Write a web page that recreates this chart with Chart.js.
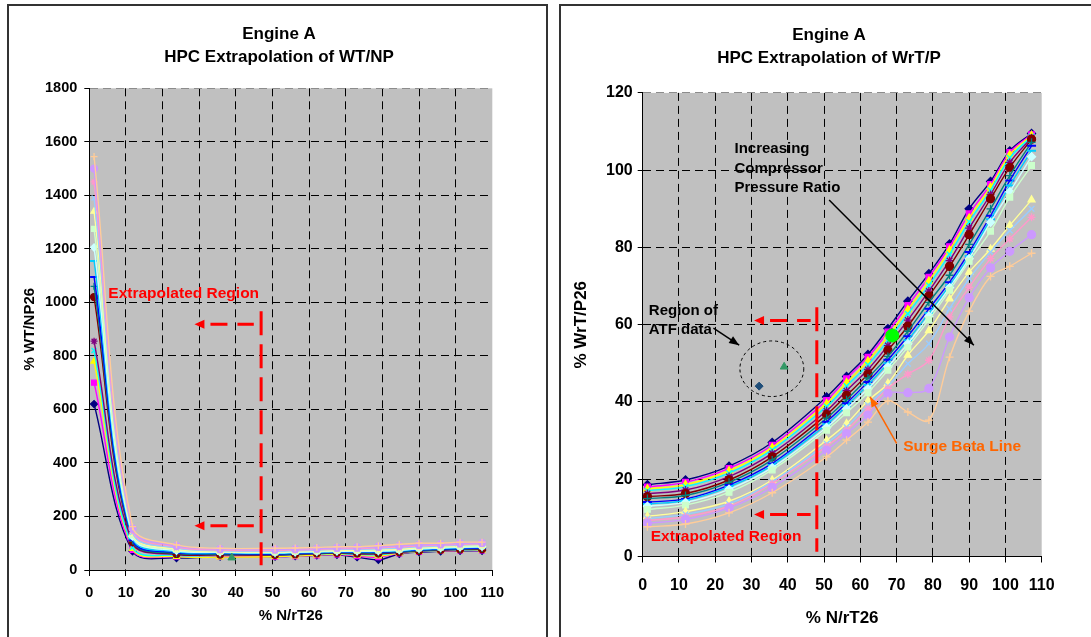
<!DOCTYPE html>
<html>
<head>
<meta charset="utf-8">
<script src="https://cdn.jsdelivr.net/npm/chart.js@4.4.1/dist/chart.umd.min.js"></script>
<style>
html, body { margin: 0; padding: 0; background: #fff; width: 1091px; height: 637px; overflow: hidden; position: relative; }
.panel { position: absolute; top: 4px; height: 700px; border: 2px solid #333; box-sizing: border-box; }
#panel-left { left: 7px; width: 541px; }
#panel-right { left: 559px; width: 600px; }
canvas { position: absolute; top: 0; }
#wtnp-chart { left: 0; }
#wrtp-chart { left: 550px; }
</style>
</head>
<body>
<div class="panel" id="panel-left"></div>
<div class="panel" id="panel-right"></div>
<canvas id="wtnp-chart" width="550" height="637"></canvas>
<canvas id="wrtp-chart" width="541" height="637"></canvas>
<script>
// --- Data ---
const speedPct = [1.3, 11.8, 23.8, 35.7, 50.7, 56.2, 62.1, 67.6, 73.1, 78.9, 84.6, 90.0, 95.9, 101.2, 107.2];

// % WT/NP26 per speed line (left chart)
const wtnp1  = [620, 70, 45, 50, 50, 52, 55, 57, 48, 38, 60, 67, 70, 72, 72];
const wtnp2  = [700, 75, 50, 50, 50, 52, 55, 58, 52, 48, 62, 68, 71, 73, 73];
const wtnp3  = [780, 80, 50, 48, 50, 52, 56, 60, 55, 52, 63, 69, 72, 74, 74];
const wtnp4  = [820, 85, 55, 55, 55, 57, 60, 62, 58, 57, 65, 70, 73, 75, 76];
const wtnp5  = [855, 100, 58, 57, 56, 58, 61, 63, 60, 60, 66, 71, 74, 76, 77];
const wtnp6  = [1020, 105, 60, 58, 57, 59, 62, 64, 62, 62, 67, 72, 75, 77, 78];
const wtnp7  = [1060, 108, 62, 60, 58, 60, 63, 65, 64, 64, 68, 73, 76, 78, 80];
const wtnp8  = [1095, 112, 65, 62, 60, 62, 64, 66, 66, 66, 70, 75, 78, 80, 82];
const wtnp9  = [1155, 118, 68, 64, 62, 64, 66, 68, 68, 69, 72, 77, 80, 83, 85];
const wtnp10 = [1205, 125, 72, 66, 64, 66, 68, 70, 70, 71, 74, 79, 82, 85, 87];
const wtnp11 = [1275, 130, 75, 68, 66, 68, 70, 72, 72, 73, 76, 81, 84, 87, 89];
const wtnp12 = [1340, 135, 78, 70, 68, 70, 72, 74, 74, 76, 79, 84, 87, 90, 92];
const wtnp13 = [1390, 140, 82, 72, 70, 72, 74, 77, 77, 79, 82, 87, 90, 93, 95];
const wtnp14 = [1450, 148, 86, 75, 73, 75, 77, 80, 80, 83, 86, 90, 93, 96, 98];
const wtnp15 = [1500, 155, 90, 78, 77, 78, 80, 83, 84, 87, 90, 94, 96, 100, 101];
const wtnp16 = [1545, 162, 94, 81, 81, 82, 84, 87, 87, 91, 96, 100, 100, 104, 104];

// % WrT/P26 per speed line (right chart)
const wrtp1  = [18.6, 19.8, 23.4, 29.5, 41.3, 46.6, 52.3, 59.0, 66.1, 73.2, 80.9, 90.0, 97.1, 105.0, 109.5];
const wrtp2  = [18.0, 19.2, 22.8, 28.8, 40.4, 46.0, 51.6, 58.1, 65.0, 72.3, 80.2, 88.7, 96.3, 104.6, 109.2];
const wrtp3  = [17.5, 18.6, 22.2, 28.2, 39.6, 45.0, 50.6, 57.0, 63.9, 71.3, 79.3, 87.6, 95.6, 104.0, 109.0];
const wrtp4  = [17.0, 18.1, 21.6, 27.6, 38.8, 44.1, 49.6, 55.9, 62.8, 70.2, 78.2, 86.6, 94.8, 103.2, 108.7];
const wrtp5  = [16.3, 17.2, 20.7, 26.7, 37.7, 42.9, 48.4, 54.6, 61.2, 68.7, 76.6, 85.0, 93.7, 102.0, 108.4];
const wrtp6  = [15.5, 16.3, 19.8, 25.8, 36.7, 41.7, 47.2, 53.4, 59.6, 67.4, 75.1, 83.3, 92.6, 100.7, 108.0];
const wrtp7  = [15.0, 15.8, 19.2, 25.0, 35.8, 40.6, 46.2, 51.8, 58.3, 65.8, 72.8, 80.8, 90.0, 98.6, 107.2];
const wrtp8  = [14.1, 14.9, 18.5, 24.1, 34.9, 39.7, 45.2, 50.9, 57.0, 64.1, 71.0, 78.8, 88.2, 97.3, 106.3];
const wrtp9  = [13.6, 14.5, 18.0, 23.6, 34.2, 39.0, 44.4, 50.0, 56.0, 63.0, 70.2, 77.8, 87.3, 96.0, 105.0];
const wrtp10 = [13.0, 14.0, 17.4, 23.0, 33.4, 38.2, 43.4, 49.1, 55.1, 62.2, 69.6, 77.1, 86.5, 94.4, 103.5];
const wrtp11 = [12.2, 13.3, 16.6, 22.4, 32.7, 37.2, 42.4, 48.2, 54.2, 61.3, 68.9, 76.4, 84.2, 93.0, 101.2];
const wrtp12 = [10.4, 11.6, 14.3, 19.8, 30.1, 34.4, 40.3, 44.8, 52.1, 58.5, 66.7, 73.6, 79.6, 85.7, 92.3];
const wrtp13 = [9.8, 10.9, 13.6, 19.3, 29.2, 33.5, 39.2, 44.1, 49.9, 55.1, 64.1, 71.9, 78.8, 84.4, 90.0];
const wrtp14 = [9.3, 10.3, 13.0, 18.9, 28.5, 32.7, 38.3, 43.5, 47.2, 50.8, 62.0, 69.7, 77.1, 82.2, 87.8];
const wrtp15 = [8.6, 9.6, 12.6, 17.9, 27.5, 31.8, 36.6, 42.2, 42.4, 43.5, 56.8, 67.0, 74.7, 79.0, 83.3];
const wrtp16 = [7.7, 8.4, 11.3, 16.5, 25.8, 30.1, 34.8, 40.3, 37.4, 35.3, 51.6, 63.5, 72.5, 75.1, 78.5];

// ATF test points
const atfX = [32.1, 39.0];
const atfWrtp = [44.1, 49.1];
const atfWtnpX = [38.9];
const atfWtnp = [46];
const designX = [68.8];
const designWrtp = [57.2];

const xTicks = [0, 110, 10];
const wtnpTicks = [0, 1800, 200];
const wrtpTicks = [0, 120, 20];

const wtnpSeries = [wtnp1, wtnp2, wtnp3, wtnp4, wtnp5, wtnp6, wtnp7, wtnp8, wtnp9, wtnp10, wtnp11, wtnp12, wtnp13, wtnp14, wtnp15, wtnp16];
const wrtpSeries = [wrtp1, wrtp2, wrtp3, wrtp4, wrtp5, wrtp6, wrtp7, wrtp8, wrtp9, wrtp10, wrtp11, wrtp12, wrtp13, wrtp14, wrtp15, wrtp16];

// Excel-ish series styling
const lineColors = ['#000080', '#FF00FF', '#FFFF00', '#00FFFF', '#800080', '#800000', '#008080', '#0000FF',
                    '#00CCFF', '#CCFFFF', '#CCFFCC', '#FFFF99', '#99CCFF', '#FF99CC', '#CC99FF', '#FFCC99'];
const lineMarkers = ['rectRot', 'rect', 'triangle', 'crossRot', 'star', 'circle', 'cross', 'line',
                     'line', 'rectRot', 'rect', 'triangle', 'crossRot', 'star', 'circle', 'cross'];

const FONT = '"Liberation Sans", Arial, Helvetica, sans-serif';
Chart.defaults.font.family = FONT;
Chart.defaults.color = '#000';

function speedLines(seriesList, r) {
    return seriesList.map((vals, i) => ({
        label: 'Line ' + (i + 1),
        data: vals.map((v, k) => ({ x: speedPct[k], y: v })),
        borderColor: lineColors[i],
        backgroundColor: lineColors[i],
        pointStyle: lineMarkers[i],
        pointRadius: lineMarkers[i] === 'line' ? r + 0.5 : r,
        pointBorderWidth: lineMarkers[i] === 'line' ? 2 : 1.3,
        borderWidth: 1.4,
        tension: 0.35,
        order: -i
    }));
}

function pointSet(xs, ys, color, style, r) {
    return {
        label: 'pts',
        data: xs.map((x, k) => ({ x, y: ys[k] })),
        showLine: false,
        borderColor: color,
        backgroundColor: color,
        pointStyle: style,
        pointRadius: r,
        pointBorderWidth: 1,
        order: -30
    };
}

// gray plot area
const plotBg = {
    id: 'plotBg',
    beforeDraw(chart) {
        const { ctx, chartArea: a } = chart;
        ctx.save();
        ctx.fillStyle = '#C0C0C0';
        ctx.fillRect(a.left, a.top, a.right - a.left, a.bottom - a.top);
        ctx.restore();
    }
};

// two-line heading centred on the panel
const heading = {
    id: 'heading',
    afterDraw(chart, args, opts) {
        const ctx = chart.ctx;
        ctx.save();
        ctx.font = 'bold 17px ' + FONT;
        ctx.fillStyle = '#000';
        ctx.textAlign = 'center';
        ctx.textBaseline = 'middle';
        opts.lines.forEach((t, i) => ctx.fillText(t, opts.cx, opts.y + i * opts.gap));
        ctx.restore();
    }
};

function arrowHead(ctx, x1, y1, x2, y2, len, half) {
    const ang = Math.atan2(y2 - y1, x2 - x1);
    ctx.beginPath();
    ctx.moveTo(x2, y2);
    ctx.lineTo(x2 - len * Math.cos(ang) + half * Math.sin(ang), y2 - len * Math.sin(ang) - half * Math.cos(ang));
    ctx.lineTo(x2 - len * Math.cos(ang) - half * Math.sin(ang), y2 - len * Math.sin(ang) + half * Math.cos(ang));
    ctx.closePath();
    ctx.fill();
}

// annotations, placed in data units
const notes = {
    id: 'notes',
    afterDatasetsDraw(chart, args, opts) {
        const { ctx, scales: { x, y } } = chart;
        const px = v => x.getPixelForValue(v);
        const py = v => y.getPixelForValue(v);
        ctx.save();
        (opts.items || []).forEach(it => {
            ctx.setLineDash([]);
            if (it.type === 'text') {
                ctx.font = 'bold ' + it.size + 'px ' + FONT;
                ctx.fillStyle = it.color;
                ctx.textAlign = 'left';
                ctx.textBaseline = 'middle';
                it.lines.forEach((t, i) => ctx.fillText(t, px(it.x), py(it.y) + i * (it.gap || 0)));
            } else if (it.type === 'vdash') {
                ctx.strokeStyle = '#FF0000';
                ctx.lineWidth = 3;
                ctx.setLineDash([24, 9]);
                ctx.beginPath();
                ctx.moveTo(px(it.x), py(it.y1));
                ctx.lineTo(px(it.x), py(it.y2));
                ctx.stroke();
            } else if (it.type === 'redArrow') {
                const tip = px(it.x1), end = px(it.x2), yy = py(it.y);
                ctx.fillStyle = '#FF0000';
                ctx.beginPath();
                ctx.moveTo(tip, yy);
                ctx.lineTo(tip + 10, yy - 4.5);
                ctx.lineTo(tip + 10, yy + 4.5);
                ctx.closePath();
                ctx.fill();
                ctx.strokeStyle = '#FF0000';
                ctx.lineWidth = 3;
                ctx.setLineDash([17, 10]);
                ctx.beginPath();
                ctx.moveTo(tip + 16, yy);
                ctx.lineTo(end, yy);
                ctx.stroke();
            } else if (it.type === 'arrow') {
                const x1 = px(it.x1), y1 = py(it.y1), x2 = px(it.x2), y2 = py(it.y2);
                ctx.strokeStyle = it.color;
                ctx.fillStyle = it.color;
                ctx.lineWidth = 1.5;
                ctx.beginPath();
                ctx.moveTo(x1, y1);
                ctx.lineTo(x2, y2);
                ctx.stroke();
                arrowHead(ctx, x1, y1, x2, y2, 10, 4);
            } else if (it.type === 'ellipse') {
                ctx.strokeStyle = '#000';
                ctx.lineWidth = 1;
                ctx.setLineDash([3, 3]);
                ctx.beginPath();
                ctx.ellipse(px(it.x), py(it.y), Math.abs(px(it.x + it.rx) - px(it.x)), Math.abs(py(it.y + it.ry) - py(it.y)), 0, 0, Math.PI * 2);
                ctx.stroke();
            }
        });
        ctx.restore();
    }
};

function buildScales(o) {
    return {
        x: {
            type: 'linear',
            min: xTicks[0], max: xTicks[1],
            ticks: { stepSize: xTicks[2], autoSkip: false, maxRotation: 0, padding: o.xPad, color: '#000',
                     font: { size: o.tickSize, weight: 'bold' } },
            grid: { color: c => (c.tick && c.tick.value === xTicks[1]) ? 'rgba(0,0,0,0)' : '#000',
                    lineWidth: 1, tickLength: 6, tickColor: '#000', tickWidth: 1 },
            border: { display: true, color: '#000', width: 1, dash: [8, 5] },
            title: { display: true, text: '% N/rT26', color: '#000', padding: 0,
                     font: { size: o.titleSize, weight: 'bold' } },
            afterFit: s => { s.height = o.xH; s.paddingLeft = 0; s.paddingRight = 0; }
        },
        y: {
            type: 'linear',
            min: o.yTicks[0], max: o.yTicks[1],
            ticks: { stepSize: o.yTicks[2], padding: o.yPad, color: '#000', callback: v => String(v),
                     font: { size: o.tickSize, weight: 'bold' } },
            grid: { color: c => (c.tick && c.tick.value === o.yTicks[1]) ? '#8c8c8c' : '#000',
                    lineWidth: 1, tickLength: 5, tickColor: '#000', tickWidth: 1 },
            border: { display: true, color: '#000', width: 1, dash: [8, 5] },
            title: { display: true, text: o.yTitle, color: '#000', padding: 0,
                     font: { size: o.titleSize, weight: 'bold' } },
            afterFit: s => { s.width = o.yW; s.paddingTop = 0; s.paddingBottom = 0; }
        }
    };
}

// --- Left: WT/NP ---
new Chart(document.getElementById('wtnp-chart'), {
    type: 'line',
    data: {
        datasets: speedLines(wtnpSeries, 3.5).concat([
            pointSet(atfWtnpX, atfWtnp, '#339966', 'triangle', 4.5)
        ])
    },
    options: {
        responsive: false,
        animation: false,
        layout: { padding: { left: 20.5, right: 57.7, top: 88.3, bottom: 12 } },
        scales: buildScales({ xPad: 8, yPad: 7, tickSize: 14.5, titleSize: 15, xH: 55, yW: 68.8,
                              yTicks: wtnpTicks, yTitle: '% WT/NP26' }),
        plugins: {
            legend: { display: false },
            tooltip: { enabled: false },
            heading: { lines: ['Engine A', 'HPC Extrapolation of WT/NP'], cx: 279, y: 34, gap: 23 },
            notes: {
                items: [
                    { type: 'text', x: 5.2, y: 1033, size: 15.5, color: '#FF0000', lines: ['Extrapolated Region'] },
                    { type: 'vdash', x: 46.9, y1: 967, y2: 18 },
                    { type: 'redArrow', x1: 28.7, x2: 44.9, y: 918 },
                    { type: 'redArrow', x1: 28.7, x2: 44.9, y: 165 }
                ]
            }
        }
    },
    plugins: [plotBg, heading, notes]
});

// --- Right: WrT/P ---
new Chart(document.getElementById('wrtp-chart'), {
    type: 'line',
    data: {
        datasets: speedLines(wrtpSeries, 4).concat([
            pointSet([atfX[0]], [atfWrtp[0]], '#1F4E79', 'rectRot', 4),
            pointSet([atfX[1]], [atfWrtp[1]], '#339966', 'triangle', 4.5),
            pointSet(designX, designWrtp, '#00FF00', 'circle', 6.5)
        ])
    },
    options: {
        responsive: false,
        animation: false,
        layout: { padding: { left: 20.8, right: 49.3, top: 92.9, bottom: 8.8 } },
        scales: buildScales({ xPad: 13, yPad: 5, tickSize: 16, titleSize: 17, xH: 71.7, yW: 71.9,
                              yTicks: wrtpTicks, yTitle: '% WrT/P26' }),
        plugins: {
            legend: { display: false },
            tooltip: { enabled: false },
            heading: { lines: ['Engine A', 'HPC Extrapolation of WrT/P'], cx: 279, y: 35, gap: 23 },
            notes: {
                items: [
                    { type: 'text', x: 25.3, y: 105.5, size: 15, color: '#000', gap: 19.5,
                      lines: ['Increasing', 'Compressor', 'Pressure Ratio'] },
                    { type: 'arrow', x1: 51.4, y1: 92.3, x2: 91.3, y2: 54.7, color: '#000' },
                    { type: 'text', x: 1.7, y: 63.7, size: 15, color: '#000', gap: 19.5,
                      lines: ['Region of', 'ATF data'] },
                    { type: 'arrow', x1: 19.5, y1: 59.1, x2: 26.6, y2: 54.7, color: '#000' },
                    { type: 'ellipse', x: 35.6, y: 48.6, rx: 8.8, ry: 7.2 },
                    { type: 'vdash', x: 48.0, y1: 64.5, y2: 1.2 },
                    { type: 'redArrow', x1: 30.7, x2: 46.3, y: 61.1 },
                    { type: 'redArrow', x1: 30.7, x2: 46.3, y: 10.9 },
                    { type: 'text', x: 2.2, y: 5.1, size: 15.5, color: '#FF0000', lines: ['Extrapolated Region'] },
                    { type: 'text', x: 71.8, y: 28.4, size: 15.5, color: '#FF6600', lines: ['Surge Beta Line'] },
                    { type: 'arrow', x1: 70.0, y1: 29.3, x2: 62.7, y2: 41.3, color: '#FF6600' }
                ]
            }
        }
    },
    plugins: [plotBg, heading, notes]
});
</script>
</body>
</html>
